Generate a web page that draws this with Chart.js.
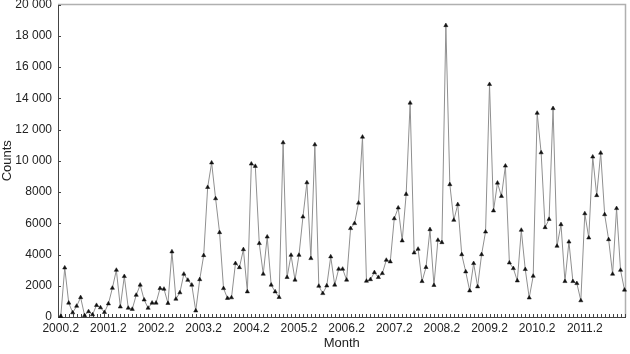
<!DOCTYPE html>
<html lang="en">
  <head>
    <meta charset="UTF-8" />
    <title>Counts per month</title>
    <style>
      body {
        margin: 0;
        background: #fff;
      }
      #chart {
        display: block;
      }
    </style>
  </head>
  <body>
    <canvas id="chart" width="630" height="354"></canvas>
    <script src="https://cdn.jsdelivr.net/npm/chart.js@4.4.0/dist/chart.umd.min.js"></script>
    <script>
      // monthly counts, first value is 2000.2
      let startYear = 2000;
      let startMonth = 2;
      let counts = [
        50, 3150, 900, 280, 700, 1250, 100, 350, 150, 750, 600, 300,
        850, 1850, 3000, 650, 2600, 570, 500, 1400, 2050, 1100, 570, 900,
        900, 1830, 1790, 880, 4180, 1150, 1560, 2750, 2360, 2050, 400, 2400,
        3940, 8300, 9870, 7580, 5410, 1830, 1200, 1240, 3430, 3170, 4320, 1620,
        9800, 9650, 4710, 2750, 5130, 2050, 1620, 1260, 11160, 2540, 3960, 2370,
        3960, 6410, 8600, 3750, 11030, 1980, 1510, 2000, 3860, 2050, 3070, 3070,
        2370, 5670, 5990, 7300, 11520, 2300, 2400, 2850, 2540, 2790, 3640, 3540,
        6300, 6990, 4880, 7860, 13700, 4110, 4350, 2280, 3180, 5600, 2030, 4920,
        4770, 18660, 8480, 6200, 7200, 4000, 2900, 1680, 3430, 1940, 4000, 5450,
        14890, 6800, 8580, 7730, 9670, 3470, 3110, 2320, 5560, 3050, 1230, 2620,
        13050, 10520, 5730, 6260, 13350, 4540, 5920, 2280, 4810, 2280, 2150, 1050,
        6620, 5070, 10250, 7780, 10500, 6560, 4960, 2750, 6950, 3000, 1730,
      ];
      let yearTicks = [
        '2000.2', '2001.2', '2002.2', '2003.2', '2004.2', '2005.2',
        '2006.2', '2007.2', '2008.2', '2009.2', '2010.2', '2011.2',
      ];
      let countTicks = [0, 2000, 4000, 6000, 8000, 10000, 12000, 14000, 16000, 18000, 20000];

      // month names like 2000.2 ... for every value
      let months = counts.map((_, i) => {
        let m = startMonth - 1 + i;
        return startYear + Math.floor(m / 12) + '.' + ((m % 12) + 1);
      });

      function fmtCount(v) {
        if (v < 10000) return String(v);
        return Math.floor(v / 1000) + ' ' + String(v % 1000).padStart(3, '0');
      }

      // frame on top/right plus small inward ticks
      const frame = {
        id: 'frame',
        beforeDatasetsDraw(chart) {
          const { ctx, chartArea: a, scales } = chart;
          ctx.save();
          ctx.strokeStyle = '#b0b0b0';
          ctx.lineWidth = 1.5;
          ctx.beginPath();
          ctx.moveTo(a.left, a.top);
          ctx.lineTo(a.right, a.top);
          ctx.lineTo(a.right, a.bottom);
          ctx.stroke();
          ctx.strokeStyle = '#444';
          ctx.lineWidth = 1;
          ctx.beginPath();
          months.forEach((m, i) => {
            let px = Math.round(scales.x.getPixelForValue(i)) + 0.5;
            ctx.moveTo(px, a.bottom);
            ctx.lineTo(px, a.bottom - 3);
          });
          countTicks.forEach((t) => {
            let py = Math.round(scales.y.getPixelForValue(t)) + 0.5;
            ctx.moveTo(a.left, py);
            ctx.lineTo(a.left + 3, py);
          });
          ctx.stroke();
          ctx.restore();
        },
      };

      const font = { family: "'Liberation Sans', Arial, sans-serif" };

      let chart = new Chart(document.getElementById('chart'), {
        type: 'line',
        data: {
          datasets: [
            {
              label: 'Counts',
              data: counts.map((v, i) => ({ x: i, y: v })),
              borderColor: '#909090',
              borderWidth: 1,
              tension: 0,
              pointStyle: 'triangle',
              pointRadius: 2.4,
              pointBackgroundColor: '#111',
              pointBorderColor: '#111',
              pointBorderWidth: 0.5,
              clip: false,
            },
          ],
        },
        options: {
          responsive: false,
          animation: false,
          devicePixelRatio: 1,
          layout: { padding: { top: 4, right: 2, left: 0, bottom: 0 } },
          plugins: {
            legend: { display: false },
            tooltip: { enabled: false },
          },
          scales: {
            x: {
              type: 'linear',
              min: -0.7,
              max: counts.length - 0.75,
              grid: { display: false, drawTicks: false },
              border: { display: true, color: '#444', width: 1 },
              afterBuildTicks: (scale) => {
                scale.ticks = yearTicks.map((t) => ({ value: months.indexOf(t) }));
              },
              afterFit: (scale) => {
                scale.height = 37;
                scale.paddingLeft = 0;
                scale.paddingRight = 0;
              },
              ticks: {
                autoSkip: false,
                maxRotation: 0,
                padding: 4,
                color: '#222',
                font: { ...font, size: 12 },
                callback: (v) => months[v],
              },
              title: {
                display: true,
                text: 'Month',
                color: '#222',
                font: { ...font, size: 13 },
                padding: { top: 0, bottom: 3 },
              },
            },
            y: {
              min: 0,
              max: 20000,
              grid: { display: false, drawTicks: false },
              border: { display: true, color: '#444', width: 1 },
              afterBuildTicks: (scale) => {
                scale.ticks = countTicks.map((v) => ({ value: v }));
              },
              afterFit: (scale) => {
                scale.width = 58;
                scale.paddingTop = 0;
                scale.paddingBottom = 0;
              },
              ticks: {
                padding: 6,
                color: '#222',
                font: { ...font, size: 12 },
                callback: (v) => fmtCount(v),
              },
              title: {
                display: true,
                text: 'Counts',
                color: '#222',
                font: { ...font, size: 13 },
                padding: 0,
              },
            },
          },
        },
        plugins: [frame],
      });
    </script>
  </body>
</html>
